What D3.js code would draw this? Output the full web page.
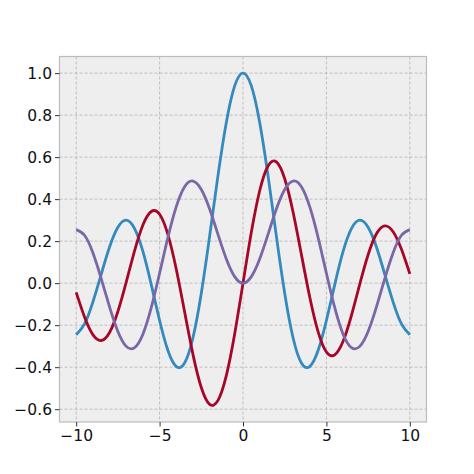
<!DOCTYPE html>
<html>
<head>
<meta charset="utf-8">
<script src="https://cdn.jsdelivr.net/npm/d3@7"></script>
<style>
  body { margin: 0; background: #fff; }
  text { font-family: "DejaVu Sans", sans-serif; }
</style>
</head>
<body>
<div id="chart"></div>
<script>
// x samples, step 0.5
const xs = [-10, -9.5, -9, -8.5, -8, -7.5, -7, -6.5, -6, -5.5, -5, -4.5, -4, -3.5, -3, -2.5, -2, -1.5, -1, -0.5,
  0, 0.5, 1, 1.5, 2, 2.5, 3, 3.5, 4, 4.5, 5, 5.5, 6, 6.5, 7, 7.5, 8, 8.5, 9, 9.5, 10];

// blue curve
const blueVals = [-0.246, -0.194, -0.090, 0.042, 0.172, 0.266, 0.300, 0.260, 0.151, -0.007, -0.178, -0.321, -0.397, -0.380, -0.260, -0.048, 0.224, 0.512, 0.765, 0.939,
  1.000, 0.939, 0.765, 0.512, 0.224, -0.048, -0.260, -0.380, -0.397, -0.321, -0.178, -0.007, 0.151, 0.260, 0.300, 0.266, 0.172, 0.042, -0.090, -0.194, -0.246];

// red curve
const redVals = [-0.044, -0.161, -0.245, -0.273, -0.235, -0.135, 0.005, 0.154, 0.277, 0.341, 0.328, 0.231, 0.066, -0.137, -0.339, -0.497, -0.577, -0.558, -0.440, -0.242,
  0.000, 0.242, 0.440, 0.558, 0.577, 0.497, 0.339, 0.137, -0.066, -0.231, -0.328, -0.341, -0.277, -0.154, -0.005, 0.135, 0.235, 0.273, 0.245, 0.161, 0.044];

// purple curve
const purpleVals = [0.255, 0.228, 0.145, 0.022, -0.113, -0.230, -0.301, -0.307, -0.243, -0.117, 0.047, 0.218, 0.364, 0.459, 0.486, 0.446, 0.353, 0.232, 0.115, 0.031,
  0.000, 0.031, 0.115, 0.232, 0.353, 0.446, 0.486, 0.459, 0.364, 0.218, 0.047, -0.117, -0.243, -0.307, -0.301, -0.230, -0.113, 0.022, 0.145, 0.228, 0.255];

const xTicks = [-10, -5, 0, 5, 10];
const yTicks = [-0.6, -0.4, -0.2, 0.0, 0.2, 0.4, 0.6, 0.8, 1.0];

const series = [
  {name: 'blue', values: blueVals, color: '#348ABD'},
  {name: 'red', values: redVals, color: '#A60628'},
  {name: 'purple', values: purpleVals, color: '#7A68A6'}
];

const width = 474;
const height = 474;
const margin = {top: 56.5, right: 47.5, bottom: 52, left: 59.5};

const svg = d3.select('#chart')
    .append('svg')
    .attr('width', width)
    .attr('height', height);

const x = d3.scaleLinear()
    .domain([-11, 11])
    .range([margin.left, width - margin.right]);

const y = d3.scaleLinear()
    .domain([-0.661, 1.079])
    .range([height - margin.bottom, margin.top]);

// plot background
svg.append('rect')
    .attr('x', margin.left)
    .attr('y', margin.top)
    .attr('width', width - margin.left - margin.right)
    .attr('height', height - margin.top - margin.bottom)
    .attr('fill', '#eeeeee');

// grid
const grid = svg.append('g');
grid.selectAll('line.vx')
    .data(xTicks)
    .join('line')
    .attr('x1', d => x(d)).attr('x2', d => x(d))
    .attr('y1', margin.top).attr('y2', height - margin.bottom)
    .attr('stroke', '#b2b2b2')
    .attr('stroke-width', 0.8)
    .attr('stroke-dasharray', '3,2');
grid.selectAll('line.hy')
    .data(yTicks)
    .join('line')
    .attr('y1', d => y(d)).attr('y2', d => y(d))
    .attr('x1', margin.left).attr('x2', width - margin.right)
    .attr('stroke', '#b2b2b2')
    .attr('stroke-width', 0.8)
    .attr('stroke-dasharray', '3,2');

// curves
const line = d3.line()
    .x((d, i) => x(xs[i]))
    .y(d => y(d))
    .curve(d3.curveNatural);

svg.append('g')
    .selectAll('path')
    .data(series)
    .join('path')
    .attr('d', d => line(d.values))
    .attr('fill', 'none')
    .attr('stroke', d => d.color)
    .attr('stroke-width', 2.8);

// frame
svg.append('rect')
    .attr('x', margin.left)
    .attr('y', margin.top)
    .attr('width', width - margin.left - margin.right)
    .attr('height', height - margin.top - margin.bottom)
    .attr('fill', 'none')
    .attr('stroke', '#bcbcbc')
    .attr('stroke-width', 1.2);

// axes
const xAxis = svg.append('g')
    .attr('transform', `translate(0,${height - margin.bottom})`)
    .call(d3.axisBottom(x).tickValues(xTicks).tickFormat(d3.format('d')).tickSize(4.5).tickPadding(3));

const yAxis = svg.append('g')
    .attr('transform', `translate(${margin.left},0)`)
    .call(d3.axisLeft(y).tickValues(yTicks).tickFormat(d => d3.format('.1f')(d).replace('-', '\u2212')).tickSize(4.5).tickPadding(3));

xAxis.selectAll('text').text(d => String(d).replace('-', '\u2212'));

[xAxis, yAxis].forEach(g => {
  g.select('.domain').remove();
  g.selectAll('.tick line').attr('stroke', '#333').attr('stroke-width', 1);
  g.selectAll('.tick text')
      .attr('fill', '#111')
      .style('font-size', '15.5px')
      .style('font-family', '"DejaVu Sans", sans-serif');
});
</script>
</body>
</html>
